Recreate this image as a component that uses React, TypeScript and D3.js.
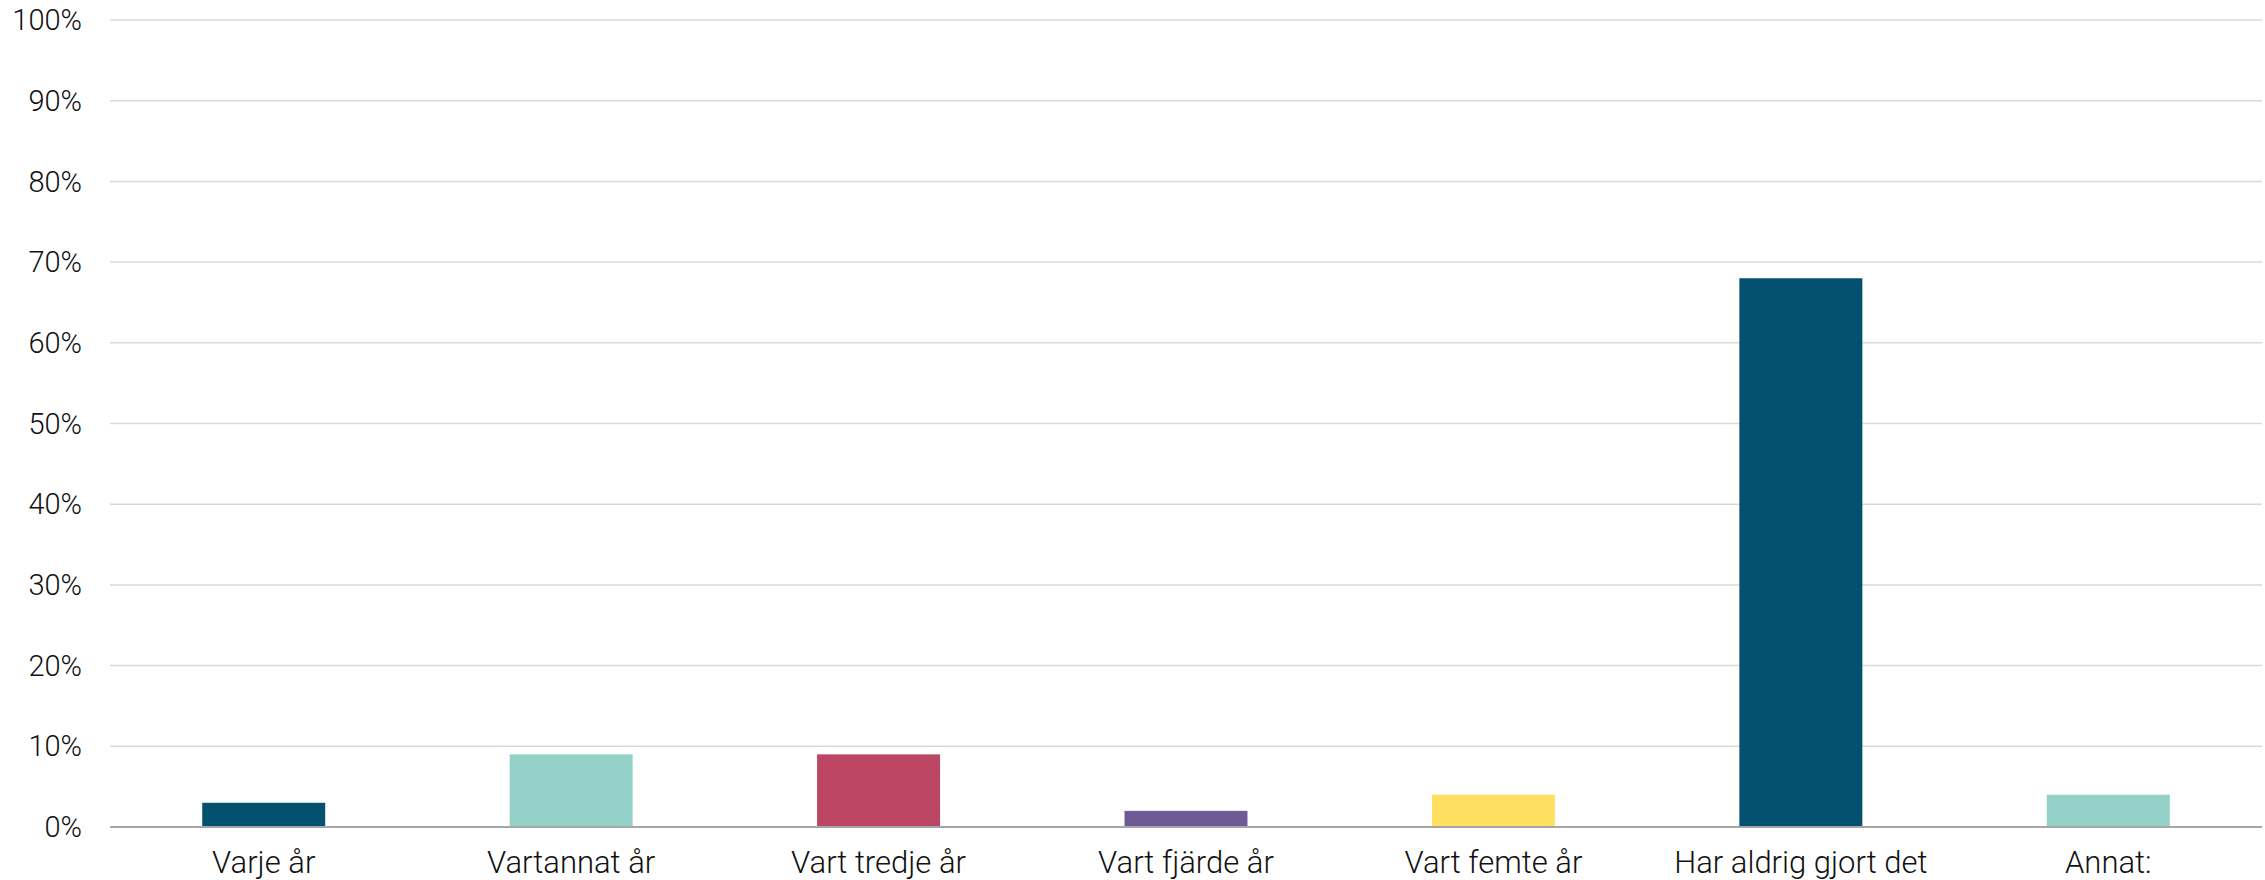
import React, { useEffect, useRef } from 'react';
import * as d3 from 'd3';

const categories = [
    'Varje år',
    'Vartannat år',
    'Vart tredje år',
    'Vart fjärde år',
    'Vart femte år',
    'Har aldrig gjort det',
    'Annat:',
];
const values = [3, 9, 9, 2, 4, 68, 4];
const barColors = ['#03516f', '#92d0c8', '#bc4663', '#6e5b96', '#ffdf60', '#03516f', '#92d0c8'];
const yTicks = [0, 10, 20, 30, 40, 50, 60, 70, 80, 90, 100];

export default function App() {
    const svgRef = useRef<SVGSVGElement>(null);
    const W = 2265,
        H = 880;
    const margin = { top: 20, right: 3, bottom: 53, left: 110 };

    useEffect(() => {
        const svg = d3.select(svgRef.current);
        svg.selectAll('*').remove();

        const width = W - margin.left - margin.right;
        const height = H - margin.top - margin.bottom;

        const g = svg.append('g').attr('transform', `translate(${margin.left}, ${margin.top})`);

        const x = d3.scaleBand().domain(categories).range([0, width]).padding(0);
        const y = d3.scaleLinear().domain([0, 100]).range([height, 0]);

        // gridlines
        g.selectAll('.grid')
            .data(yTicks.filter((t) => t > 0))
            .join('line')
            .attr('x1', 0)
            .attr('x2', width)
            .attr('y1', (d) => y(d))
            .attr('y2', (d) => y(d))
            .attr('stroke', '#d9d9d9')
            .attr('stroke-width', 1.5);

        // y labels
        g.selectAll('.ylab')
            .data(yTicks)
            .join('text')
            .attr('x', -28)
            .attr('y', (d) => y(d))
            .attr('dy', '0.35em')
            .attr('text-anchor', 'end')
            .style('font-family', 'Roboto, sans-serif')
            .style('font-weight', 300)
            .style('font-size', '29px')
            .style('fill', '#111')
            .text((d) => d + '%');

        // bars
        const barW = x.bandwidth() * 0.4;
        g.selectAll('.bar')
            .data(values)
            .join('rect')
            .attr('x', (d, i) => x(categories[i])! + x.bandwidth() / 2 - barW / 2)
            .attr('y', (d) => y(d))
            .attr('width', barW)
            .attr('height', (d) => height - y(d))
            .attr('fill', (d, i) => barColors[i]);

        // baseline
        g.append('line')
            .attr('x1', 0)
            .attr('x2', width)
            .attr('y1', height)
            .attr('y2', height)
            .attr('stroke', '#a6a6a6')
            .attr('stroke-width', 2);

        // x labels
        g.selectAll('.xlab')
            .data(categories)
            .join('text')
            .attr('x', (d) => x(d)! + x.bandwidth() / 2)
            .attr('y', height + 46)
            .attr('text-anchor', 'middle')
            .style('font-family', 'Roboto, sans-serif')
            .style('font-weight', 300)
            .style('font-size', '31px')
            .style('fill', '#111')
            .text((d) => d);
        //eslint-disable-next-line
    }, []);

    return (
        <div style={{ position: 'absolute', left: 0, top: 0 }}>
            <svg ref={svgRef} width={W} height={H} style={{ display: 'block', background: '#fff' }} />
        </div>
    );
}
